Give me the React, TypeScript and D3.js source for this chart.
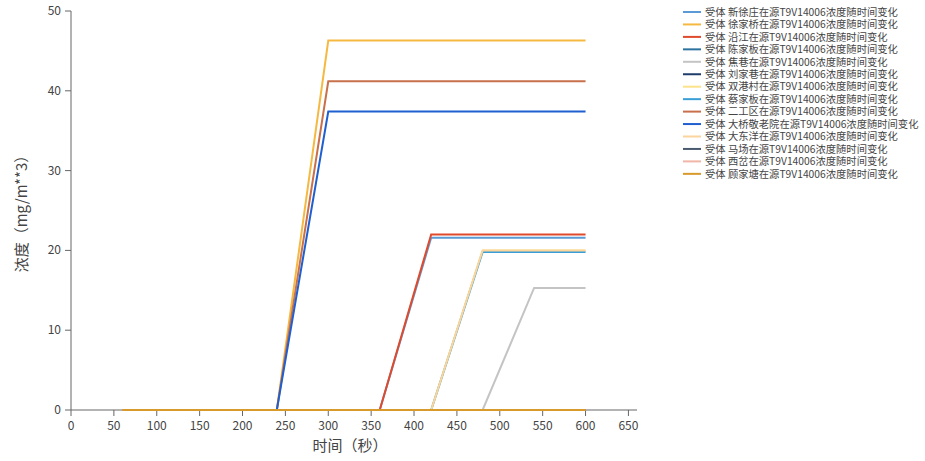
import React from "react";
import * as d3 from "d3";

const times = [60, 120, 180, 240, 300, 360, 420, 480, 540, 600];
const seriesNames = [
  "受体 新徐庄在源T9V14006浓度随时间变化",
  "受体 徐家桥在源T9V14006浓度随时间变化",
  "受体 沿江在源T9V14006浓度随时间变化",
  "受体 陈家板在源T9V14006浓度随时间变化",
  "受体 焦巷在源T9V14006浓度随时间变化",
  "受体 刘家巷在源T9V14006浓度随时间变化",
  "受体 双港村在源T9V14006浓度随时间变化",
  "受体 蔡家板在源T9V14006浓度随时间变化",
  "受体 二工区在源T9V14006浓度随时间变化",
  "受体 大桥敬老院在源T9V14006浓度随时间变化",
  "受体 大东洋在源T9V14006浓度随时间变化",
  "受体 马场在源T9V14006浓度随时间变化",
  "受体 西岔在源T9V14006浓度随时间变化",
  "受体 顾家塘在源T9V14006浓度随时间变化",
];
const colors = [
  "#5b9bd5", "#f5b942", "#e04a2c", "#2e73a0", "#c4c4c4", "#1f3c6b", "#fde28c",
  "#3a9fd6", "#c8704c", "#1f5fd0", "#fbd59c", "#4a5a6e", "#f0b5a6", "#d89a2a",
];
const s_xinxuzhuang = [0, 0, 0, 0, 0, 0, 21.6, 21.6, 21.6, 21.6];
const s_xujiaqiao = [0, 0, 0, 0, 46.3, 46.3, 46.3, 46.3, 46.3, 46.3];
const s_yanjiang = [0, 0, 0, 0, 0, 0, 22.0, 22.0, 22.0, 22.0];
const s_chenjiaban = [0, 0, 0, 0, 0, 0, 0, 0, 0, 0];
const s_jiaoxiang = [0, 0, 0, 0, 0, 0, 0, 0, 15.3, 15.3];
const s_liujiaxiang = [0, 0, 0, 0, 0, 0, 0, 0, 0, 0];
const s_shuanggangcun = [0, 0, 0, 0, 0, 0, 0, 20.0, 20.0, 20.0];
const s_caijiaban = [0, 0, 0, 0, 0, 0, 0, 19.8, 19.8, 19.8];
const s_ergongqu = [0, 0, 0, 0, 41.2, 41.2, 41.2, 41.2, 41.2, 41.2];
const s_daqiao = [0, 0, 0, 0, 37.4, 37.4, 37.4, 37.4, 37.4, 37.4];
const s_dadongyang = [0, 0, 0, 0, 0, 0, 0, 20.0, 20.0, 20.0];
const s_machang = [0, 0, 0, 0, 0, 0, 0, 0, 0, 0];
const s_xicha = [0, 0, 0, 0, 0, 0, 0, 0, 0, 0];
const s_gujiatang = [0, 0, 0, 0, 0, 0, 0, 0, 0, 0];
const seriesValues = [
  s_xinxuzhuang, s_xujiaqiao, s_yanjiang, s_chenjiaban, s_jiaoxiang, s_liujiaxiang,
  s_shuanggangcun, s_caijiaban, s_ergongqu, s_daqiao, s_dadongyang, s_machang,
  s_xicha, s_gujiatang,
];
const xTicks = [0, 50, 100, 150, 200, 250, 300, 350, 400, 450, 500, 550, 600, 650];
const yTicks = [0, 10, 20, 30, 40, 50];

export default function App() {
  const W = 925, H = 461;
  const x = d3.scaleLinear().domain([0, 660]).range([71, 637]);
  const y = d3.scaleLinear().domain([0, 50]).range([410, 11]);
  const line = d3.line<number>().x((_, i) => x(times[i])).y((d) => y(d));
  const axisColor = "#666";
  const font = "'Noto Sans CJK SC', 'Noto Sans', sans-serif";
  return (
    <svg width={W} height={H} style={{ position: "absolute", left: 0, top: 0 }} fontFamily={font}>
      <rect width={W} height={H} fill="#fff" />
      <line x1={x(0)} x2={x(660)} y1={y(0)} y2={y(0)} stroke={axisColor} strokeWidth={1} />
      <line x1={x(0)} x2={x(0)} y1={y(0)} y2={y(50)} stroke={axisColor} strokeWidth={1} />
      {xTicks.map((t) => (
        <g key={"x" + t}>
          <line x1={x(t)} x2={x(t)} y1={y(0)} y2={y(0) + 6} stroke={axisColor} />
          <text x={x(t)} y={y(0) + 20} textAnchor="middle" fontSize={12} fill="#444">{t}</text>
        </g>
      ))}
      {yTicks.map((t) => (
        <g key={"y" + t}>
          <line x1={x(0) - 6} x2={x(0)} y1={y(t)} y2={y(t)} stroke={axisColor} />
          <text x={x(0) - 10} y={y(t) + 4} textAnchor="end" fontSize={12} fill="#444">{t}</text>
        </g>
      ))}
      <text x={350} y={451} textAnchor="middle" fontSize={15} fill="#444">时间（秒）</text>
      <text transform={`translate(27,210) rotate(-90)`} textAnchor="middle" fontSize={15} fill="#444">浓度（mg/m**3）</text>
      {seriesValues.map((vals, i) => (
        <path key={"l" + i} d={line(vals) || ""} fill="none" stroke={colors[i]} strokeWidth={2} />
      ))}
      {seriesNames.map((n, i) => {
        const ly = 12 + i * 12.45;
        return (
          <g key={"lg" + i}>
            <line x1={683} x2={701} y1={ly} y2={ly} stroke={colors[i]} strokeWidth={2} />
            <text x={705} y={ly + 3.7} fontSize={10.3} fill="#444">{n}</text>
          </g>
        );
      })}
    </svg>
  );
}
